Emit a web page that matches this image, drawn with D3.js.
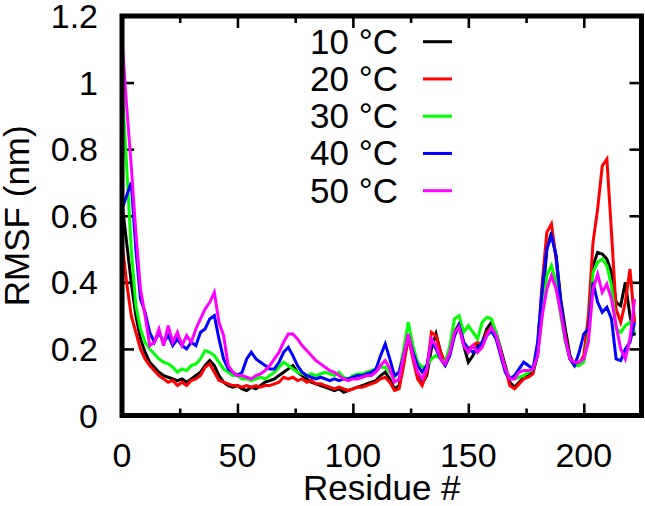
<!DOCTYPE html>
<html>
<head>
<meta charset="utf-8">
<script src="https://cdn.jsdelivr.net/npm/d3@7"></script>
<style>
  body { margin: 0; background: #ffffff; }
  svg text { font-family: "Liberation Sans", Arial, Helvetica, sans-serif; fill: #000000; }
</style>
</head>
<body>
<div id="chart"></div>
<script>

///////////////////////////////////////////////////////////////////////////////////////////////////

// residue numbers (every second residue)
var residues = d3.range(0, 223, 2);

var rmsf_10 = [
    0.64, 0.52, 0.40, 0.30, 0.23, 0.19, 0.16, 0.145, 0.13, 0.12,
    0.115, 0.11, 0.105, 0.11, 0.10, 0.11, 0.12, 0.13, 0.15, 0.165,
    0.15, 0.12, 0.10, 0.09, 0.085, 0.09, 0.08, 0.075, 0.085, 0.08,
    0.09, 0.10, 0.105, 0.11, 0.12, 0.13, 0.14, 0.15, 0.13, 0.12,
    0.11, 0.10, 0.095, 0.09, 0.085, 0.08, 0.075, 0.08, 0.07, 0.075,
    0.08, 0.085, 0.09, 0.095, 0.10, 0.105, 0.12, 0.13, 0.11, 0.08,
    0.09, 0.16, 0.24, 0.18, 0.12, 0.095, 0.12, 0.20, 0.245, 0.19,
    0.155, 0.19, 0.25, 0.275, 0.21, 0.16, 0.18, 0.21, 0.22, 0.26,
    0.28, 0.25, 0.20, 0.15, 0.10, 0.085, 0.10, 0.115, 0.12, 0.13,
    0.18, 0.33, 0.50, 0.55, 0.48, 0.35, 0.26, 0.18, 0.15, 0.155,
    0.17, 0.25, 0.45, 0.49, 0.485, 0.47, 0.43, 0.34, 0.33, 0.40, 0.30, 0.24
];

var rmsf_20 = [
    0.52, 0.40, 0.30, 0.25, 0.20, 0.17, 0.15, 0.135, 0.12, 0.11,
    0.10, 0.105, 0.09, 0.10, 0.09, 0.105, 0.11, 0.12, 0.145, 0.155,
    0.13, 0.105, 0.10, 0.095, 0.09, 0.09, 0.085, 0.09, 0.085, 0.09,
    0.085, 0.09, 0.09, 0.095, 0.10, 0.115, 0.11, 0.115, 0.105, 0.11,
    0.10, 0.105, 0.095, 0.095, 0.09, 0.085, 0.08, 0.085, 0.08, 0.075,
    0.08, 0.085, 0.085, 0.09, 0.095, 0.10, 0.11, 0.115, 0.10, 0.075,
    0.08, 0.15, 0.235, 0.17, 0.11, 0.09, 0.13, 0.25, 0.24, 0.19,
    0.155, 0.19, 0.24, 0.27, 0.22, 0.20, 0.21, 0.22, 0.21, 0.25,
    0.265, 0.24, 0.19, 0.14, 0.09, 0.08, 0.095, 0.11, 0.115, 0.125,
    0.20, 0.40, 0.55, 0.575, 0.47, 0.33, 0.24, 0.17, 0.15, 0.155,
    0.18, 0.30, 0.52, 0.62, 0.75, 0.77, 0.55, 0.32, 0.28, 0.34, 0.44, 0.28
];

var rmsf_30 = [
    1.00, 0.75, 0.50, 0.33, 0.26, 0.22, 0.20, 0.185, 0.17, 0.16,
    0.155, 0.145, 0.13, 0.14, 0.135, 0.15, 0.155, 0.17, 0.195, 0.19,
    0.18, 0.16, 0.14, 0.13, 0.12, 0.12, 0.11, 0.11, 0.105, 0.11,
    0.115, 0.11, 0.12, 0.13, 0.145, 0.16, 0.15, 0.14, 0.13, 0.125,
    0.12, 0.125, 0.12, 0.125, 0.13, 0.125, 0.12, 0.13, 0.115, 0.11,
    0.12, 0.125, 0.125, 0.13, 0.135, 0.14, 0.145, 0.145, 0.13, 0.115,
    0.13, 0.20, 0.28, 0.21, 0.16, 0.145, 0.15, 0.17, 0.18, 0.17,
    0.16, 0.21, 0.29, 0.30, 0.25, 0.27, 0.25, 0.23, 0.28, 0.295,
    0.29, 0.25, 0.19, 0.14, 0.115, 0.11, 0.115, 0.12, 0.13, 0.14,
    0.19, 0.30, 0.42, 0.45, 0.40, 0.30, 0.22, 0.17, 0.15, 0.15,
    0.16, 0.24, 0.43, 0.46, 0.47, 0.45, 0.39, 0.26, 0.25, 0.27, 0.28, 0.25
];

var rmsf_40 = [
    0.62, 0.66, 0.70, 0.50, 0.35, 0.31, 0.25, 0.22, 0.25, 0.22,
    0.24, 0.21, 0.23, 0.21, 0.20, 0.22, 0.21, 0.25, 0.26, 0.29,
    0.30, 0.23, 0.17, 0.14, 0.13, 0.12, 0.13, 0.17, 0.19, 0.17,
    0.16, 0.15, 0.14, 0.14, 0.16, 0.19, 0.205, 0.18, 0.15, 0.13,
    0.12, 0.115, 0.11, 0.115, 0.11, 0.105, 0.11, 0.105, 0.11, 0.11,
    0.115, 0.12, 0.12, 0.125, 0.13, 0.14, 0.18, 0.215, 0.17, 0.12,
    0.13, 0.18, 0.24, 0.19, 0.15, 0.13, 0.15, 0.22, 0.20, 0.17,
    0.15, 0.18, 0.24, 0.27, 0.22, 0.20, 0.19, 0.20, 0.22, 0.24,
    0.255, 0.23, 0.18, 0.13, 0.11, 0.12, 0.14, 0.16, 0.15, 0.14,
    0.22, 0.38, 0.50, 0.54, 0.48, 0.34, 0.23, 0.17, 0.15, 0.19,
    0.245, 0.26, 0.40, 0.34, 0.31, 0.325, 0.29, 0.17, 0.165, 0.20, 0.22, 0.28
];

var rmsf_50 = [
    1.13, 0.93, 0.75, 0.55, 0.38, 0.30, 0.21, 0.22, 0.26, 0.21,
    0.27, 0.22, 0.25, 0.21, 0.24, 0.22, 0.26, 0.29, 0.32, 0.34,
    0.37, 0.28, 0.24, 0.15, 0.13, 0.12, 0.12, 0.115, 0.11, 0.12,
    0.125, 0.135, 0.15, 0.17, 0.19, 0.22, 0.245, 0.245, 0.23, 0.21,
    0.195, 0.18, 0.165, 0.155, 0.145, 0.135, 0.13, 0.12, 0.11, 0.105,
    0.11, 0.11, 0.115, 0.12, 0.12, 0.13, 0.15, 0.165, 0.14, 0.10,
    0.11, 0.18, 0.245, 0.18, 0.13, 0.11, 0.14, 0.23, 0.21, 0.17,
    0.155, 0.19, 0.25, 0.265, 0.21, 0.19, 0.21, 0.19, 0.205, 0.24,
    0.265, 0.24, 0.19, 0.14, 0.11, 0.11, 0.13, 0.135, 0.135, 0.14,
    0.18, 0.30, 0.38, 0.42, 0.38, 0.31, 0.23, 0.17, 0.16, 0.16,
    0.17, 0.22, 0.38, 0.425, 0.37, 0.395, 0.35, 0.27, 0.20, 0.17, 0.23, 0.35
];

var series_labels = ["10 °C", "20 °C", "30 °C", "40 °C", "50 °C"];
var series_colors = ["#000000", "#ff0000", "#00ff00", "#0000ff", "#ff00ff"];
var series_values = [rmsf_10, rmsf_20, rmsf_30, rmsf_40, rmsf_50];

var x_major_ticks = [0, 50, 100, 150, 200];
var x_minor_ticks = [25, 75, 125, 175, 225];
var y_ticks = [0, 0.2, 0.4, 0.6, 0.8, 1, 1.2];

///////////////////////////////////////////////////////////////////////////////////////////////////

function draw_rmsf(element_id) {

    var svg_width = 645;
    var svg_height = 506;
    var margin = { top: 16, right: 3.5, bottom: 90.5, left: 122 };
    var font_size = 34;

    var svg = d3.select('#' + element_id)
      .append("svg")
        .attr("width", svg_width)
        .attr("height", svg_height);

    var x = d3.scaleLinear()
        .domain([0, 225])
        .range([margin.left, svg_width - margin.right]);
    var y = d3.scaleLinear()
        .domain([0, 1.2])
        .range([svg_height - margin.bottom, margin.top]);

    // tick marks on all four sides, pointing inwards (gnuplot style)
    function tick_axis(axis, size, side_y, values) {
        return svg.append("g")
            .attr("transform", side_y)
            .call(axis.tickValues(values).tickSize(size).tickFormat(""))
            .call(function(g) { g.select(".domain").remove(); })
            .call(function(g) { g.selectAll("line").attr("stroke", "#000").attr("stroke-width", 2.6); });
    }
    tick_axis(d3.axisTop(x), 12, "translate(0," + y(0) + ")", x_major_ticks);
    tick_axis(d3.axisTop(x), 7, "translate(0," + y(0) + ")", x_minor_ticks);
    tick_axis(d3.axisBottom(x), 12, "translate(0," + y(1.2) + ")", x_major_ticks);
    tick_axis(d3.axisBottom(x), 7, "translate(0," + y(1.2) + ")", x_minor_ticks);
    tick_axis(d3.axisRight(y), 12, "translate(" + x(0) + ",0)", y_ticks);
    tick_axis(d3.axisLeft(y), 12, "translate(" + x(225) + ",0)", y_ticks);

    // tick labels
    svg.append("g").selectAll("text")
        .data(x_major_ticks)
        .join("text")
            .attr("x", function(d) { return x(d); })
            .attr("y", 467)
            .attr("text-anchor", "middle")
            .style("font-size", font_size + "px")
            .text(function(d) { return d; });

    svg.append("g").selectAll("text")
        .data(y_ticks)
        .join("text")
            .attr("x", 98)
            .attr("y", function(d) { return y(d) + 12; })
            .attr("text-anchor", "end")
            .style("font-size", font_size + "px")
            .text(function(d) { return d3.format("~g")(d); });

    // axis titles
    svg.append("text")
        .attr("x", (x(0) + x(225)) / 2)
        .attr("y", 500)
        .attr("text-anchor", "middle")
        .style("font-size", "35px")
        .text("Residue #");

    svg.append("text")
        .attr("transform", "translate(29," + ((y(0) + y(1.2)) / 2) + ") rotate(-90)")
        .attr("text-anchor", "middle")
        .style("font-size", "35px")
        .text("RMSF (nm)");

    // the five curves
    var line = d3.line()
        .x(function(d, i) { return x(residues[i]); })
        .y(function(d) { return y(d); });

    svg.append("g").selectAll("path")
        .data(series_values)
        .join("path")
            .attr("d", line)
            .attr("fill", "none")
            .attr("stroke", function(d, i) { return series_colors[i]; })
            .attr("stroke-width", 3)
            .attr("stroke-linejoin", "miter");

    // key, top middle
    var key = svg.append("g").selectAll("g")
        .data(series_labels)
        .join("g")
            .attr("transform", function(d, i) { return "translate(0," + (41.7 + i * 37.25) + ")"; });
    key.append("text")
        .attr("x", 398)
        .attr("y", 12)
        .attr("text-anchor", "end")
        .style("font-size", "35px")
        .text(function(d) { return d; });
    key.append("line")
        .attr("x1", 423)
        .attr("x2", 452)
        .attr("stroke", function(d, i) { return series_colors[i]; })
        .attr("stroke-width", 3);

    // frame drawn last
    svg.append("rect")
        .attr("x", x(0))
        .attr("y", y(1.2))
        .attr("width", x(225) - x(0))
        .attr("height", y(0) - y(1.2))
        .attr("fill", "none")
        .attr("stroke", "#000")
        .attr("stroke-width", 5);

} // end function

///////////////////////////////////////////////////////////////////////////////////////////////////

draw_rmsf("chart");

</script>
</body>
</html>
